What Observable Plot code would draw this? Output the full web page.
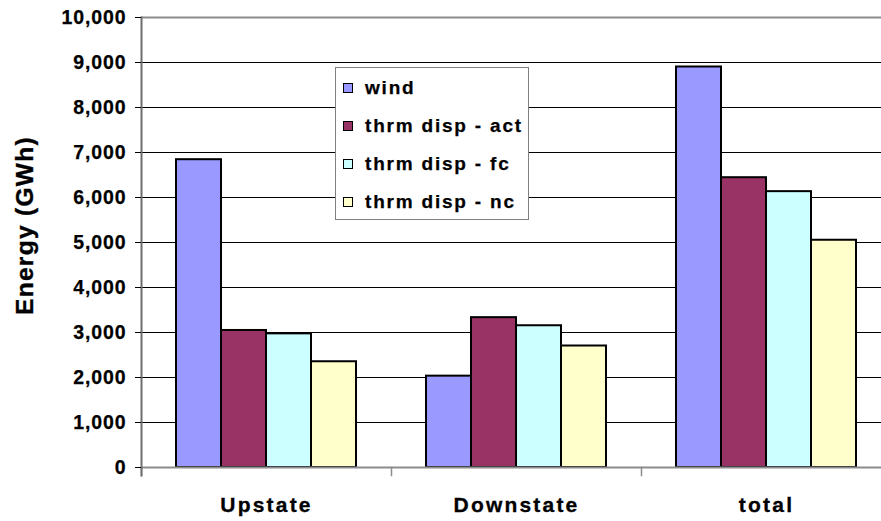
<!DOCTYPE html>
<html>
<head>
<meta charset="utf-8">
<script src="https://cdn.jsdelivr.net/npm/d3@7"></script>
<script src="https://cdn.jsdelivr.net/npm/@observablehq/plot@0.6"></script>
<style>
  html, body { margin: 0; padding: 0; background: #fff; }
  #wrap { position: relative; width: 881px; height: 521px; overflow: hidden; font-family: "Liberation Sans", Arial, sans-serif; }
  #wrap svg { display: block; }
  .ytick text { font-size: 19.5px; font-weight: bold; letter-spacing: 0.9px; fill: #000; stroke: #000; stroke-width: 0.25px; }
  .xcat text { font-size: 21px; font-weight: bold; letter-spacing: 2.2px; fill: #000; stroke: #000; stroke-width: 0.3px; }
  .ytitle text { font-size: 24.5px; font-weight: bold; letter-spacing: 1.3px; fill: #000; stroke: #000; stroke-width: 0.35px; }
  #legend { position: absolute; left: 335px; top: 67px; width: 192px; height: 151px; border: 1.5px solid #808080; background: #fff; }
  #legend .row { position: absolute; left: 7px; height: 24px; display: flex; align-items: center; font-size: 19px; font-weight: bold; letter-spacing: 1.8px; color: #000; white-space: nowrap; -webkit-text-stroke: 0.25px #000; }
  #legend .sw { width: 8px; height: 8px; border: 1px solid #000; margin-right: 12px; flex: none; }
</style>
</head>
<body>
<div id="wrap"></div>
<script>
const categories = ["Upstate", "Downstate", "total"];
const seriesNames = ["wind", "thrm disp - act", "thrm disp - fc", "thrm disp - nc"];
const wind = [6840, 2030, 8900];
const thrmDispAct = [3045, 3330, 6440];
const thrmDispFc = [2970, 3150, 6130];
const thrmDispNc = [2350, 2700, 5050];
const seriesColors = ["#9999FF", "#993366", "#CCFFFF", "#FFFFCC"];
const yTicks = [0, 1000, 2000, 3000, 4000, 5000, 6000, 7000, 8000, 9000, 10000];
const yTitle = "Energy (GWh)";

const seriesValues = [wind, thrmDispAct, thrmDispFc, thrmDispNc];
const table = [];
categories.forEach((c, i) => {
  seriesNames.forEach((s, j) => table.push({category: c, series: s, value: seriesValues[j][i]}));
});

const chart = Plot.plot({
  width: 881,
  height: 521,
  marginLeft: 141,
  marginRight: -10,
  marginTop: 17,
  marginBottom: 54,
  style: {fontFamily: "'Liberation Sans', Arial, sans-serif", overflow: "hidden"},
  fx: {domain: categories, padding: 0},
  x: {domain: seriesNames, paddingInner: 0, paddingOuter: 0.747, axis: null},
  y: {domain: [0, 10000]},
  color: {domain: seriesNames, range: seriesColors},
  marks: [
    Plot.gridY(yTicks.slice(1, -1), {stroke: "#000", strokeOpacity: 1, strokeWidth: 1}),
    Plot.barY(table, {fx: "category", x: "series", y: "value", fill: "series", stroke: "#000", strokeWidth: 2}),
    Plot.ruleY([10000], {stroke: "#8c8c8c", strokeWidth: 2}),
    Plot.ruleY([0], {stroke: "#8c8c8c", strokeWidth: 2}),
    Plot.frame({anchor: "left", stroke: "#8c8c8c", strokeWidth: 1.5, insetTop: 450, insetBottom: -8}),
    Plot.frame({anchor: "left", facetAnchor: "left", stroke: "#6e6e6e", strokeWidth: 2, insetBottom: -8}),
    Plot.axisY({ticks: yTicks, tickSize: 6, tickPadding: 9, tickFormat: d3.format(","), label: null, stroke: "#000", className: "ytick"}),
    Plot.axisFx({anchor: "bottom", tickSize: 0, tickPadding: 30, label: null, className: "xcat"}),
    Plot.text([yTitle], {frameAnchor: "left", facetAnchor: "left", textAnchor: "middle", rotate: -90, dx: -116, dy: -17, className: "ytitle"})
  ]
});

const wrap = document.getElementById("wrap");
wrap.appendChild(chart);

const legend = document.createElement("div");
legend.id = "legend";
seriesNames.forEach((s, j) => {
  const row = document.createElement("div");
  row.className = "row";
  row.style.top = (8 + j * 38) + "px";
  const sw = document.createElement("span");
  sw.className = "sw";
  sw.style.background = seriesColors[j];
  const t = document.createElement("span");
  t.textContent = s;
  row.appendChild(sw);
  row.appendChild(t);
  legend.appendChild(row);
});
wrap.appendChild(legend);
</script>
</body>
</html>
